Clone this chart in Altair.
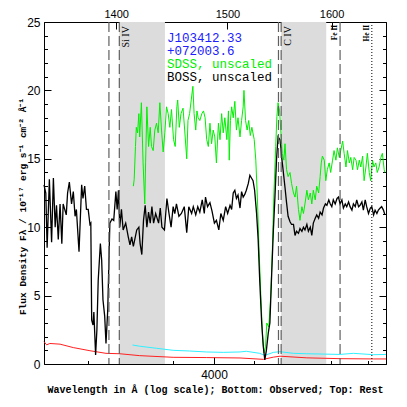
import altair as alt
import pandas as pd

ONE_PLUS_Z = 2.689

# ---------------- data ----------------
boss_wave = [3600, 3604, 3607, 3612, 3617, 3621, 3625, 3628, 3632, 3636, 3640, 3643, 3650, 3653, 3657, 3662,
             3666, 3670, 3673, 3679, 3685, 3688, 3692, 3696, 3700, 3704, 3706, 3708, 3711, 3713, 3717, 3720,
             3723, 3728, 3731, 3734, 3738, 3741, 3745, 3750, 3755, 3759, 3764, 3767, 3770, 3773, 3777, 3781,
             3787, 3793, 3797, 3801, 3805, 3813, 3818, 3821, 3825, 3829, 3833, 3837, 3841, 3845, 3849, 3853,
             3858, 3865, 3869, 3873, 3879, 3885, 3890, 3895, 3900, 3904, 3908, 3914, 3920, 3927, 3933, 3938,
             3945, 3949, 3955, 3960, 3965, 3971, 3976, 3979, 3984, 3990, 3995, 4001, 4006, 4012, 4017, 4023,
             4029, 4034, 4040, 4044, 4048, 4052, 4056, 4060, 4065, 4069, 4073, 4077, 4081, 4086, 4090, 4094,
             4098, 4102, 4107, 4111, 4115, 4120, 4124, 4128, 4132, 4137, 4141, 4145, 4150, 4154, 4158, 4162,
             4167, 4169, 4171, 4175, 4180, 4184, 4188, 4193, 4197, 4202, 4206, 4210, 4215, 4219, 4224, 4228,
             4232, 4237, 4241, 4246, 4250, 4254, 4259, 4263, 4268, 4272, 4277, 4281, 4286, 4290, 4295, 4299,
             4303, 4307, 4312, 4317, 4321, 4325, 4330, 4334, 4339, 4343, 4348, 4352, 4357, 4361, 4366, 4370,
             4375, 4379, 4384, 4388, 4393, 4397, 4402, 4407, 4411, 4416, 4420, 4425, 4429, 4434, 4438, 4443,
             4447]
boss_flux = [13.1, 12.5, 8.5, 13.5, 8.9, 13.6, 10.0, 11.6, 9.1, 11.7, 8.8, 11.7, 10.9, 12.5, 13.3, 11.7,
             12.6, 10.8, 11.3, 8.2, 13.1, 12.1, 13.0, 11.3, 11.3, 10.2, 10.3, 3.2, 2.85, 3.8, 0.66, 2.5,
             6.1, 8.8, 7.6, 4.7, 3.5, 1.5, 3.9, 10.3, 10.6, 10.5, 12.6, 11.3, 12.7, 10.0, 11.3, 9.8,
             10.3, 9.3, 8.7, 9.3, 8.6, 9.8, 10.0, 8.8, 8.0, 10.5, 11.6, 10.0, 11.1, 10.3, 11.5, 10.3,
             11.0, 10.3, 11.4, 10.0, 9.8, 12.1, 11.0, 10.0, 11.5, 11.0, 11.7, 10.8, 11.0, 11.5, 9.6, 11.5,
             11.0, 11.5, 10.9, 11.5, 11.1, 12.0, 11.0, 12.2, 11.5, 11.8, 11.2, 10.3, 10.5, 9.8, 11.0, 10.5,
             11.5, 11.0, 11.6, 11.3, 12.5, 12.7, 12.1, 12.35, 11.4, 12.6, 12.2, 12.4, 12.7, 13.2, 13.8, 13.6,
             13.4, 12.7, 11.0, 9.1, 6.1, 3.0, 1.3, 0.3, 1.0, 2.3, 3.0, 6.1, 9.8, 12.2, 14.9, 16.6,
             16.4, 15.9, 15.2, 14.2, 12.9, 11.8, 10.8, 10.4, 10.2, 10.2, 9.4, 9.7, 9.55, 9.9, 9.7, 10.0,
             9.8, 10.2, 9.7, 10.0, 9.4, 10.3, 10.65, 10.9, 10.65, 11.1, 10.9, 11.4, 11.7, 11.6, 12.0, 11.7,
             11.5, 12.0, 11.7, 12.1, 12.2, 11.7, 12.0, 11.4, 11.7, 11.5, 11.85, 11.5, 11.25, 11.7, 11.5, 12.0,
             11.5, 11.6, 11.85, 11.25, 12.0, 11.5, 11.0, 11.4, 11.5, 10.9, 11.25, 11.0, 11.25, 11.4, 11.5, 11.25,
             10.9]

sdss_wave = [3805, 3807, 3810, 3812, 3815, 3818, 3820, 3824, 3828, 3832, 3834, 3837, 3841, 3845, 3848, 3852,
             3856, 3860, 3864, 3868, 3872, 3876, 3880, 3884, 3888, 3892, 3896, 3901, 3905, 3909, 3911, 3915,
             3919, 3924, 3928, 3933, 3936, 3940, 3944, 3948, 3951, 3955, 3958, 3961, 3965, 3970, 3974, 3978,
             3982, 3986, 3990, 3994, 3998, 4002, 4006, 4011, 4015, 4019, 4023, 4027, 4032, 4036, 4038, 4041,
             4044, 4048, 4052, 4056, 4060, 4065, 4069, 4073, 4075, 4079, 4083, 4087, 4091, 4095, 4101, 4105,
             4109, 4113, 4118, 4122, 4126, 4130, 4133, 4138, 4143, 4147, 4151, 4156, 4159, 4162, 4166, 4169,
             4173, 4177, 4180, 4184, 4188, 4193, 4197, 4202, 4206, 4210, 4215, 4219, 4224, 4228, 4232, 4237,
             4241, 4246, 4250, 4254, 4259, 4263, 4268, 4272, 4275, 4278, 4283, 4287, 4291, 4296, 4300, 4305,
             4309, 4314, 4318, 4323, 4327, 4332, 4336, 4341, 4345, 4350, 4354, 4359, 4363, 4368, 4372, 4377,
             4381, 4386, 4390, 4395, 4399, 4404, 4408, 4413, 4417, 4422, 4426, 4431, 4436, 4440, 4445, 4447]
sdss_flux = [13.0, 13.5, 15.9, 17.3, 16.9, 18.3, 16.6, 19.1, 14.7, 11.7, 14.7, 18.8, 15.9, 17.3, 15.9, 15.6,
             17.1, 17.6, 16.9, 19.1, 17.1, 15.5, 16.9, 18.8, 18.3, 17.3, 18.6, 16.4, 15.9, 18.8, 19.3, 17.3,
             18.3, 18.7, 17.1, 15.0, 17.8, 18.3, 19.3, 20.3, 18.3, 17.1, 18.5, 18.0, 17.8, 18.3, 18.5, 18.0,
             16.4, 15.9, 17.6, 16.1, 17.1, 16.6, 14.7, 17.6, 16.4, 18.3, 16.9, 18.0, 16.4, 18.5, 14.9, 17.8,
             18.8, 18.0, 19.2, 17.1, 18.0, 16.6, 17.8, 18.8, 20.0, 17.8, 17.1, 17.8, 16.7, 17.3, 16.4, 14.9,
             12.2, 8.6, 4.9, 2.2, 0.8, 1.3, 3.0, 2.7, 4.9, 8.1, 12.2, 15.9, 18.1, 19.1, 18.5, 17.1,
             15.4, 14.9, 16.1, 14.2, 13.7, 14.0, 13.2, 12.5, 12.2, 13.0, 11.3, 10.5, 11.5, 11.0, 11.7, 12.7,
             12.0, 12.5, 11.7, 12.7, 12.0, 13.0, 12.5, 13.7, 14.7, 15.2, 14.9, 13.4, 14.2, 14.7, 14.0, 14.9,
             15.6, 14.9, 15.8, 15.1, 15.6, 16.3, 15.4, 14.4, 15.6, 14.7, 15.1, 14.2, 15.1, 14.9, 14.2, 14.9,
             14.4, 15.2, 13.4, 14.4, 15.4, 14.0, 13.4, 14.9, 14.4, 14.7, 14.0, 14.4, 15.1, 15.4, 14.2, 14.0]

boss_err_wave = [3600, 3606, 3613, 3636, 3666, 3704, 3741, 3773, 3820, 3900, 3981, 4065, 4124, 4150,
                 4167, 4237, 4325, 4416, 4450]
boss_err = [1.63, 1.4, 1.5, 1.45, 1.2, 0.97, 0.78, 0.75, 0.61, 0.49, 0.47, 0.44, 0.34, 0.5,
            0.57, 0.45, 0.39, 0.37, 0.37]

sdss_err_wave = [3803, 3820, 3860, 3900, 3940, 3981, 4023, 4065, 4081, 4115, 4128, 4150, 4167, 4202,
                 4237, 4325, 4361, 4416, 4450]
sdss_err = [1.39, 1.3, 1.15, 1.0, 0.95, 0.88, 0.85, 0.88, 0.93, 0.78, 0.63, 0.85, 0.9, 0.78,
            0.75, 0.7, 0.78, 0.68, 0.7]

dashed_rest = [1393.76, 1402.77, 1548.20, 1550.77, 1608.45]
dotted_rest = [1640.42]

big_label_text = ["Si IV", "C IV"]
big_label_rest = [1402.77, 1550.77]
small_label_text = ["Fe II", "He II"]
small_label_rest = [1608.45, 1640.42]

shade_start_rest = [1402.77, 1550.77]
shade_end_rest = [1443.0, 1594.7]

legend_text = ["J103412.33", "+072003.6", "SDSS, unscaled", "BOSS, unscaled"]
legend_color = ["#2020ff", "#2020ff", "#00ee00", "#000000"]

x_domain = [3600, 4450]
y_domain = [0, 25]
bottom_tick_values = [3700, 3800, 3900, 4000, 4100, 4200, 4300, 4400]
bottom_label_values = [4000]
top_rest_values = [1400, 1500, 1600]
y_major = [0, 5, 10, 15, 20, 25]
y_minor = list(range(0, 26))

# ---------------- chart ----------------
W = 342
H = 342
top_obs_values = [r * ONE_PLUS_Z for r in top_rest_values]

xscale = alt.Scale(type="log", domain=x_domain, nice=False, zero=False)
yscale = alt.Scale(domain=y_domain, nice=False, zero=False)


def X(field, axis):
    return alt.X(f"{field}:Q", scale=xscale, axis=axis)


def Y(field, axis):
    return alt.Y(f"{field}:Q", scale=yscale, axis=axis)


def tick_axis(orient, values, size, offset=0):
    return alt.Axis(orient=orient, values=values, labels=False, ticks=True, tickSize=size,
                    domain=False, grid=False, title=None, offset=offset, tickColor="black")


ax_bottom_labels = alt.Axis(orient="bottom", values=bottom_label_values, format="d", ticks=False,
                            domain=False, grid=False, labelPadding=5,
                            title="Wavelength in Å (log scale); Bottom: Observed; Top: Rest",
                            titleY=28, titleBaseline="alphabetic")
ax_left_labels = alt.Axis(orient="left", values=y_major, format="d", ticks=False, domain=False,
                          grid=False, labelPadding=4,
                          title="Flux Density Fλ / 10⁻¹⁷ erg s⁻¹ cm⁻² Å⁻¹",
                          titleX=-17, titleY=184, titleAngle=270, titleAlign="center",
                          titleBaseline="bottom", titleFontSize=9.5)
ax_top_labels = alt.Axis(orient="top", values=top_obs_values,
                         labelExpr=f"round(datum.value / {ONE_PLUS_Z})", ticks=False, domain=False,
                         grid=False, labelPadding=3, labelFontSize=11, title=None)

boss_df = pd.DataFrame({"wave": boss_wave, "flux": boss_flux})
sdss_df = pd.DataFrame({"wave": sdss_wave, "flux": sdss_flux})
berr_df = pd.DataFrame({"wave": boss_err_wave, "flux": boss_err})
serr_df = pd.DataFrame({"wave": sdss_err_wave, "flux": sdss_err})

shade = alt.Chart(pd.DataFrame({"r0": shade_start_rest, "r1": shade_end_rest})).transform_calculate(
    x0=f"datum.r0 * {ONE_PLUS_Z}", x1=f"datum.r1 * {ONE_PLUS_Z}", y0="0", y1="25"
).mark_rect(color="#dcdcdc").encode(
    x=X("x0", None), x2="x1:Q", y=Y("y0", None), y2="y1:Q"
)

red = alt.Chart(berr_df).mark_line(color="#ff2020", strokeWidth=1).encode(
    x=X("wave", tick_axis("top", bottom_tick_values, 3.5, -H)),
    y=Y("flux", tick_axis("right", y_minor, 3.5, -W)),
)

cyan = alt.Chart(serr_df).mark_line(color="#30f0ff", strokeWidth=1).encode(
    x=X("wave", tick_axis("top", bottom_label_values, 7, -H)),
    y=Y("flux", tick_axis("right", y_major, 7, -W)),
)

green = alt.Chart(sdss_df).mark_line(color="#00f000", strokeWidth=1).encode(
    x=X("wave", ax_top_labels),
    y=Y("flux", tick_axis("left", y_minor, 3.5, -W)),
)

black = alt.Chart(boss_df).mark_line(color="black", strokeWidth=1.3).encode(
    x=X("wave", ax_bottom_labels),
    y=Y("flux", ax_left_labels),
)

dashed = alt.Chart(pd.DataFrame({"rest": dashed_rest})).transform_calculate(
    obs=f"datum.rest * {ONE_PLUS_Z}"
).mark_rule(color="#606060", strokeDash=[10, 4], strokeWidth=1.2).encode(
    x=X("obs", tick_axis("bottom", top_obs_values, 7, -H))
)

dotted = alt.Chart(pd.DataFrame({"rest": dotted_rest})).transform_calculate(
    obs=f"datum.rest * {ONE_PLUS_Z}"
).mark_rule(color="black", strokeDash=[1, 2], strokeWidth=1).encode(
    x=X("obs", None)
)

big_labels = alt.Chart(pd.DataFrame({"t": big_label_text, "rest": big_label_rest})).transform_calculate(
    obs=f"datum.rest * {ONE_PLUS_Z}", ly="24.7"
).mark_text(angle=270, align="right", baseline="top", dy=2, font="Liberation Serif",
            fontSize=10, color="black").encode(
    x=X("obs", None), y=Y("ly", None), text="t:N"
)

small_labels = alt.Chart(pd.DataFrame({"t": small_label_text, "rest": small_label_rest})).transform_calculate(
    obs=f"datum.rest * {ONE_PLUS_Z}", ly="24.8"
).mark_text(angle=270, align="right", baseline="bottom", dy=-1, font="Liberation Serif",
            fontSize=7.5, fontWeight="bold", color="black").encode(
    x=X("obs", None), y=Y("ly", None), text="t:N"
)

legend = alt.Chart(pd.DataFrame({"t": legend_text, "c": legend_color,
                                 "row": list(range(len(legend_text)))})).transform_calculate(
    lx="3885", ly="23.57 - 0.97 * datum.row"
).mark_text(align="left", baseline="alphabetic", font="Liberation Mono", fontSize=12.5).encode(
    x=X("lx", None),
    y=Y("ly", tick_axis("left", y_major, 7, -W)),
    text="t:N",
    color=alt.Color("c:N", scale=None),
)

chart = alt.layer(
    shade, red, cyan, green, black, dashed, dotted, big_labels, small_labels, legend
).resolve_axis(x="independent", y="independent").properties(
    width=W, height=H,
    autosize=alt.AutoSizeParams(type="none"),
    padding={"left": 36, "top": 14, "right": 13, "bottom": 41},
).configure_view(stroke="black", strokeWidth=1).configure_axis(
    labelFont="Liberation Sans", labelFontSize=12, labelColor="black",
    titleFont="Liberation Mono", titleFontSize=10, titleFontWeight="bold", titleColor="black",
    tickColor="black", tickWidth=1,
)

chart.save("out.html", embed_options={"renderer": "svg", "actions": False})
